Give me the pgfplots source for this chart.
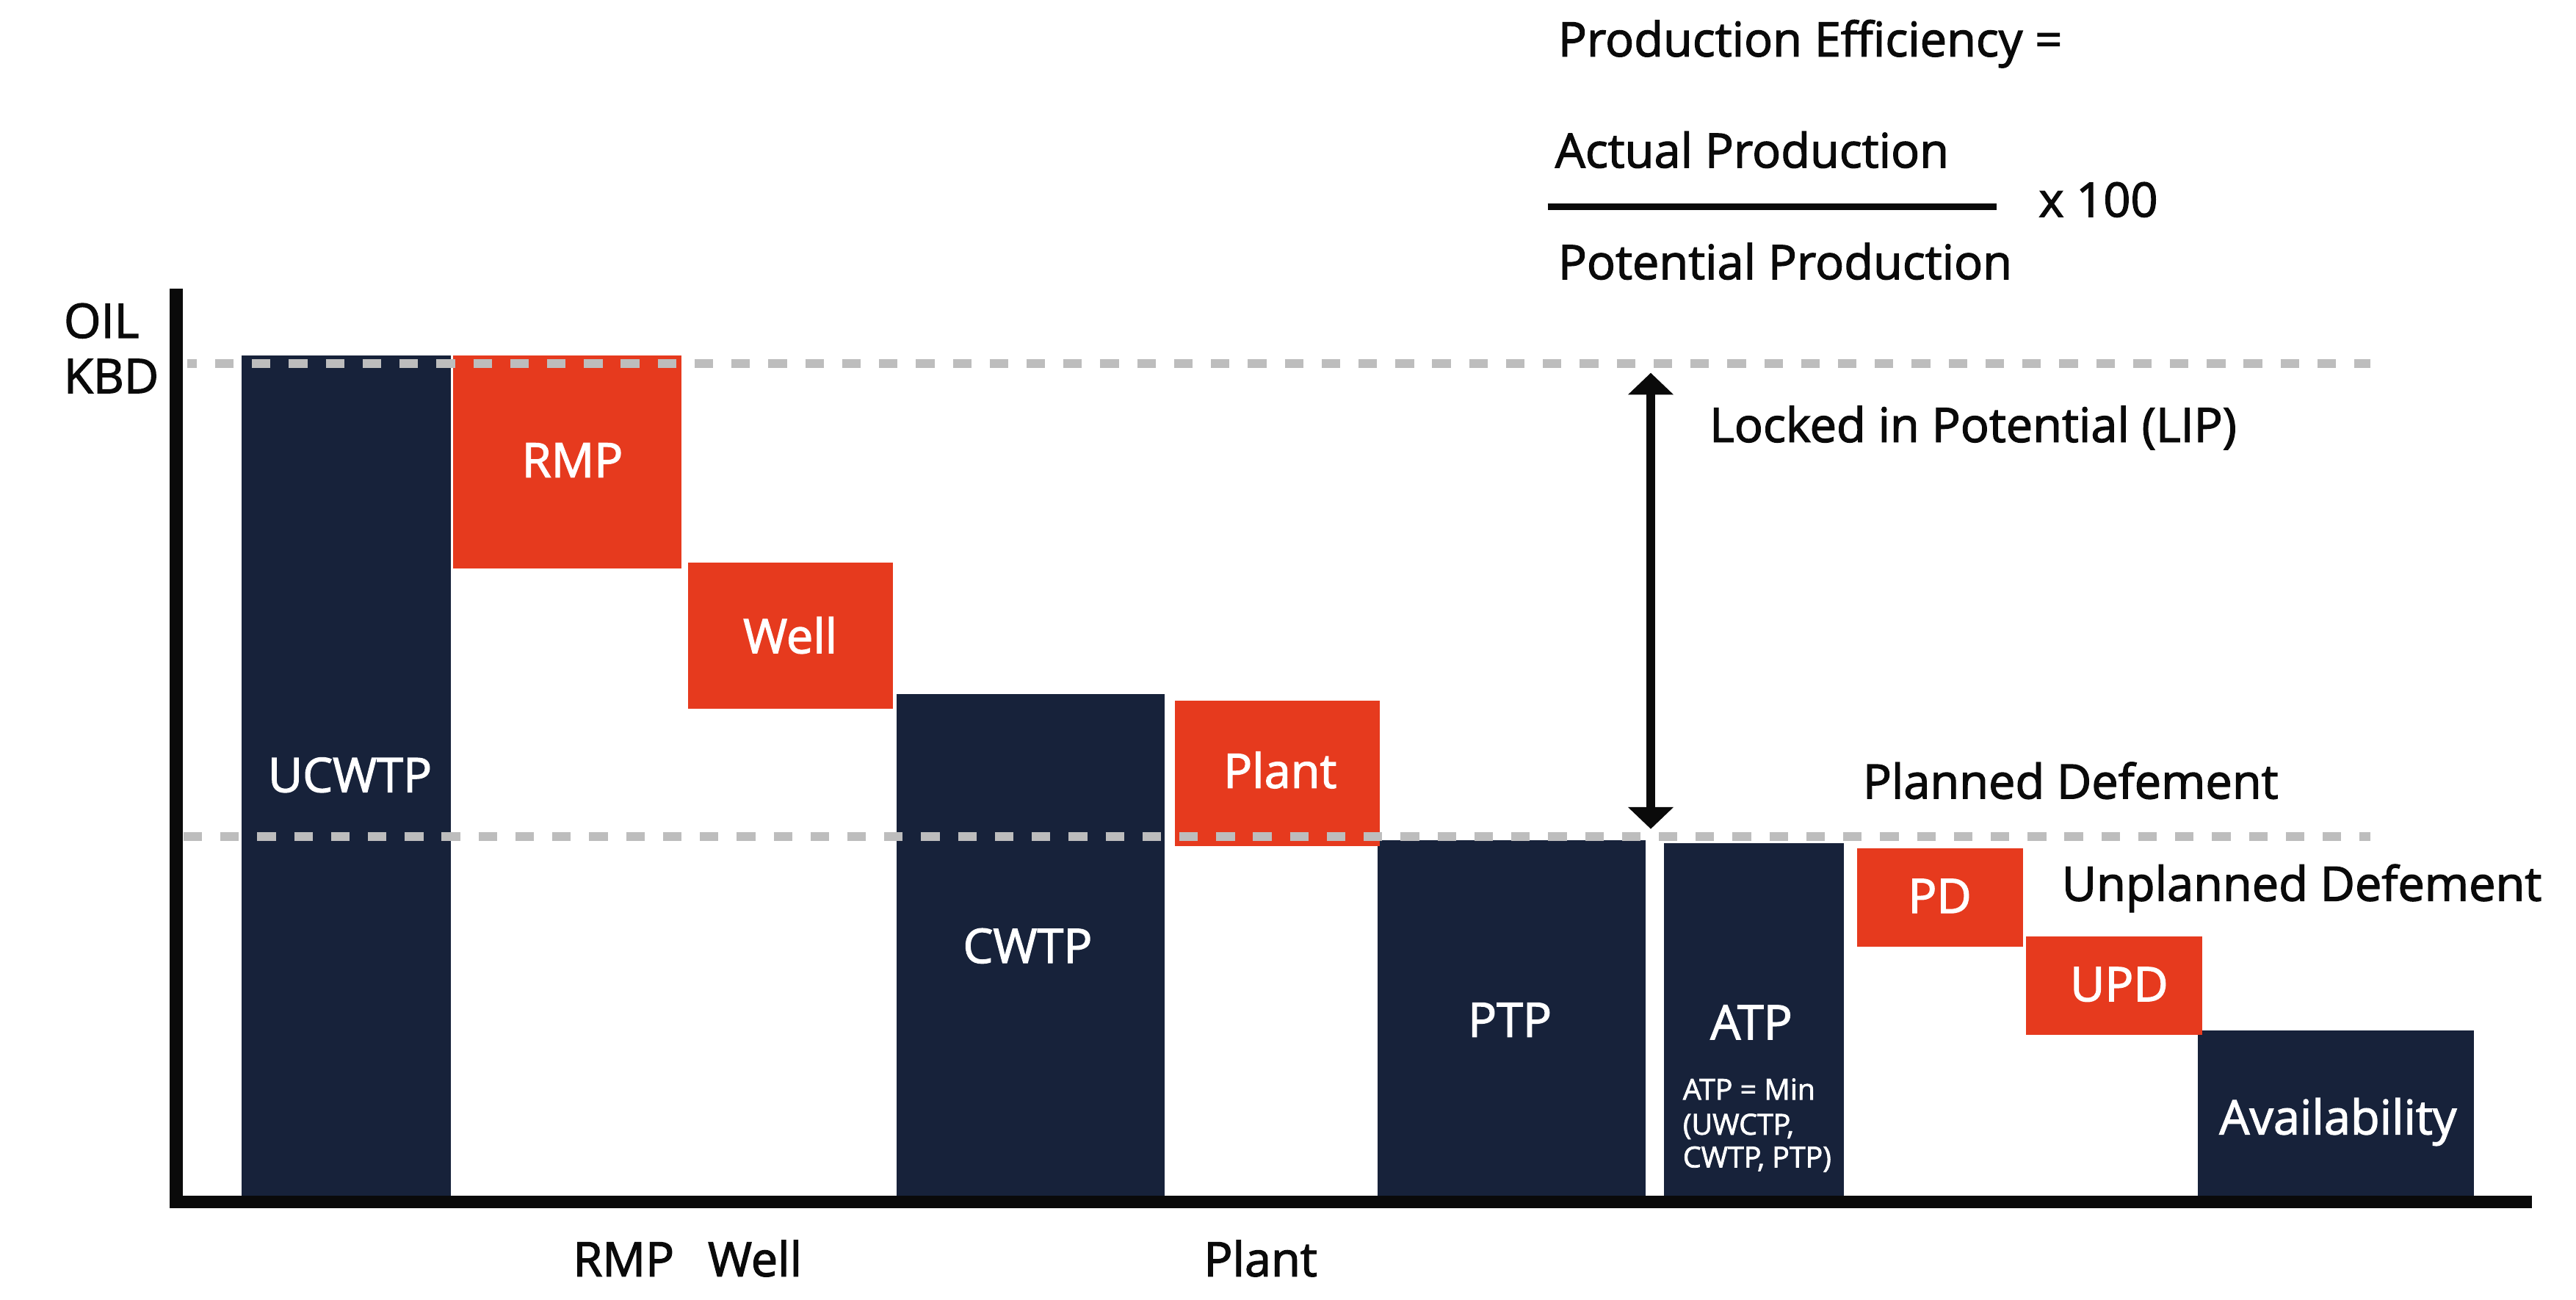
\documentclass[border=0pt]{standalone}
\usepackage{fontspec}
\setmainfont{Open Sans}[FakeBold=2]
\usepackage{pgfplots}
\pgfplotsset{compat=1.18}
\usetikzlibrary{arrows.meta}
\definecolor{navy}{RGB}{23,34,58}
\definecolor{redo}{RGB}{230,58,30}
\definecolor{dashgray}{RGB}{189,189,189}
\definecolor{ink}{RGB}{10,10,10}
% floating bar: x-left, x-right, bottom value, top value, colour
\newcommand{\fbar}[5]{\addplot[fill=#5,draw=none,forget plot] coordinates {(#1,#3) (#1,#4) (#2,#4) (#2,#3)};}
\begin{document}
\begin{tikzpicture}
\useasboundingbox (0,0) rectangle (156.8mm,-79.1mm);
\begin{axis}[at={(10.735mm,-73.135mm)}, anchor=south west, scale only axis,
  width=143.365mm, height=55.565mm,
  xmin=107.35, xmax=1541, ymin=0, ymax=107.86,
  hide axis, clip=false]
% Oil KBD waterfall
\fbar{146.9}{274.4}{0}{100}{navy}       % UCWTP
\fbar{275.6}{414.7}{74.78}{100}{redo}   % RMP
\fbar{418.9}{543.6}{58.25}{75.50}{redo} % Well
\fbar{545.7}{708.7}{0}{59.95}{navy}     % CWTP
\fbar{838.5}{1001.5}{0}{42.68}{navy}    % PTP
\fbar{715.2}{839.9}{41.98}{59.20}{redo} % Plant
\fbar{1013}{1122.4}{0}{42.39}{navy}     % ATP
\fbar{1130.5}{1231.3}{30.14}{41.76}{redo} % PD
\fbar{1337.7}{1506}{0}{20.26}{navy}     % Availability
\fbar{1233.2}{1340.3}{19.69}{31.32}{redo} % UPD
% reference levels
\addplot[dashgray, line width=0.52mm, dash pattern=on 1.13mm off 1.115mm, dash phase=0.57mm] coordinates {(114.2,99.03) (1443,99.03)};
\addplot[dashgray, line width=0.52mm, dash pattern=on 1.13mm off 1.115mm] coordinates {(111.7,43.12) (1443,43.12)};
% LIP arrow
\addplot[ink, line width=0.55mm, {Triangle[length=1.33mm,width=2.7mm]}-{Triangle[length=1.33mm,width=2.7mm]}] coordinates {(1004.8,44.04) (1004.8,97.92)};
% axis lines
\draw[ink, line width=0.81mm] (axis cs:107.35,-0.75) -- (axis cs:107.35,107.86);
\draw[ink, line width=0.77mm] (axis cs:103.3,0) -- (axis cs:1541,0);
\end{axis}
\begin{scope}[x=0.1mm,y=-0.1mm, every node/.style={inner sep=0pt, outer sep=0pt, font=\fontsize{8.25}{9.9}\selectfont}]
% formula
\node[anchor=base west, text=ink] at (948.4,34.3) {Production Efficiency =};
\node[anchor=base west, text=ink] at (946.6,102) {Actual Production};
\draw[ink, line width=0.4mm] (942,126) -- (1215.3,126);
\node[anchor=base west, text=ink] at (1241,131.9) {x 100};
\node[anchor=base west, text=ink] at (948.4,169.9) {Potential Production};
% y label
\node[anchor=base west, text=ink] at (38.9,205.6) {OIL};
\node[anchor=base west, text=ink] at (38.9,239.2) {KBD};
% annotations
\node[anchor=base west, text=ink] at (1040.6,269) {Locked in Potential (LIP)};
\node[anchor=base west, text=ink] at (1133.9,486) {Planned Defement};
\node[anchor=base west, text=ink] at (1255,548.2) {Unplanned Defement};
% bottom labels
\node[anchor=base west, text=ink] at (348.8,776.7) {RMP};
\node[anchor=base west, text=ink] at (430.9,776.7) {Well};
\node[anchor=base west, text=ink] at (732.8,776.7) {Plant};
% bar labels
\node[anchor=base, text=white] at (213,482) {UCWTP};
\node[anchor=base, text=white] at (348.4,290.4) {RMP};
\node[anchor=base, text=white] at (481,397.5) {Well};
\node[anchor=base, text=white] at (625.5,586) {CWTP};
\node[anchor=base, text=white] at (779.2,479.5) {Plant};
\node[anchor=base, text=white] at (919,631) {PTP};
\node[anchor=base, text=white] at (1066,632.5) {ATP};
\node[anchor=base, text=white] at (1180.7,555.6) {PD};
\node[anchor=base, text=white] at (1289.9,609.3) {UPD};
\node[anchor=base, text=white] at (1423.1,690.3) {Availability};
\node[anchor=base west, text=white, font=\fontsize{5}{6}\selectfont] at (1024.4,669.2) {ATP = Min};
\node[anchor=base west, text=white, font=\fontsize{5}{6}\selectfont] at (1024.4,690.5) {(UWCTP,};
\node[anchor=base west, text=white, font=\fontsize{5}{6}\selectfont] at (1024.4,710.4) {CWTP, PTP)};
\end{scope}
\end{tikzpicture}
\end{document}
